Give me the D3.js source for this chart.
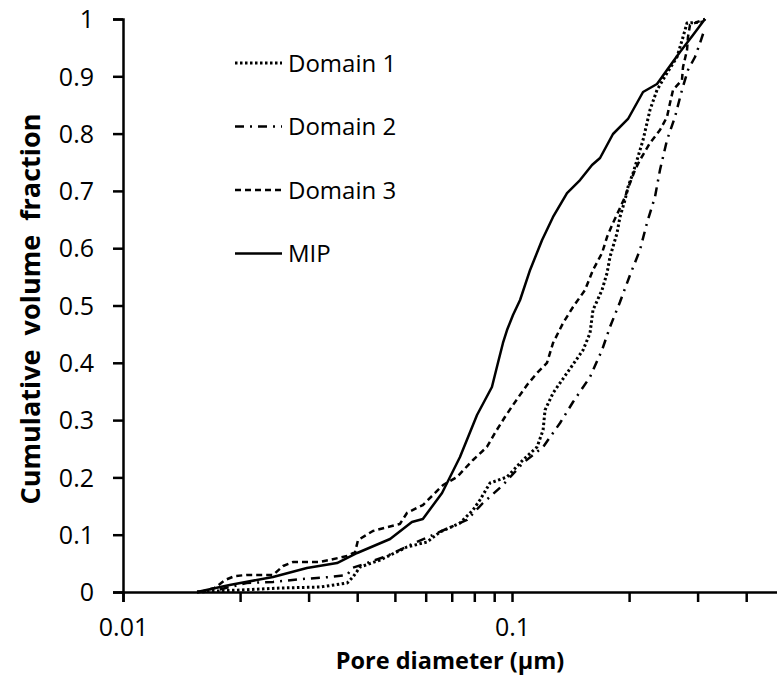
<!DOCTYPE html>
<html>
<head>
<meta charset="utf-8">
<script src="https://cdn.jsdelivr.net/npm/d3@7"></script>
<style>
  body { margin: 0; background: #fff; }
  svg text { font-family: "Open Sans", sans-serif; fill: #000; }
</style>
</head>
<body>
<div id="chart"></div>
<script>
// pore diameter (um) / cumulative volume fraction
var d1_x = [0.0155, 0.0200, 0.0253, 0.0321, 0.0377, 0.0390, 0.0407, 0.0458, 0.0537, 0.0605, 0.0653, 0.0735, 0.0794, 0.0827, 0.0878, 0.0971, 0.1067, 0.1160, 0.1202, 0.1216, 0.1275, 0.1385, 0.1523, 0.1587, 0.1615, 0.1704, 0.1755, 0.1786, 0.1862, 0.1895, 0.1952, 0.1987, 0.2047, 0.2096, 0.2172, 0.2263, 0.2359, 0.2503, 0.2656, 0.2752, 0.2818, 0.3097, 0.3134];
var d1_y = [0, 0.0035, 0.007, 0.0087, 0.0157, 0.0262, 0.0436, 0.0558, 0.0785, 0.0873, 0.1047, 0.1204, 0.1431, 0.1606, 0.1902, 0.2007, 0.2304, 0.2531, 0.2827, 0.3176, 0.3473, 0.3822, 0.4223, 0.452, 0.4921, 0.5271, 0.5567, 0.5846, 0.6265, 0.6545, 0.6841, 0.7068, 0.7312, 0.7539, 0.7888, 0.8412, 0.8761, 0.9058, 0.9337, 0.9686, 0.993, 0.9948, 1.0];

var d2_x = [0.0155, 0.0175, 0.0208, 0.0243, 0.0290, 0.0341, 0.0377, 0.0388, 0.0424, 0.0477, 0.0547, 0.0642, 0.0766, 0.0842, 0.0948, 0.1067, 0.1202, 0.1329, 0.1435, 0.1587, 0.1704, 0.1786, 0.1895, 0.2011, 0.2133, 0.2223, 0.2331, 0.2401, 0.2503, 0.2624, 0.2735, 0.2834, 0.2954, 0.3043, 0.3116];
var d2_y = [0, 0.0035, 0.0157, 0.0175, 0.0227, 0.0262, 0.0297, 0.0419, 0.0506, 0.0628, 0.082, 0.103, 0.1257, 0.1553, 0.1867, 0.2251, 0.2531, 0.2949, 0.3316, 0.3752, 0.4223, 0.4625, 0.5061, 0.5532, 0.5969, 0.644, 0.6894, 0.7365, 0.7888, 0.829, 0.8761, 0.911, 0.9337, 0.9581, 0.9791];

var d3_x = [0.0158, 0.0172, 0.0183, 0.0194, 0.0208, 0.0243, 0.0258, 0.0274, 0.0321, 0.0377, 0.0395, 0.0402, 0.0439, 0.0515, 0.0537, 0.0590, 0.0665, 0.0722, 0.0794, 0.0862, 0.0904, 0.0959, 0.1006, 0.1093, 0.1160, 0.1230, 0.1275, 0.1353, 0.1435, 0.1541, 0.1615, 0.1704, 0.1755, 0.1818, 0.1895, 0.1952, 0.2011, 0.2071, 0.2133, 0.2263, 0.2401, 0.2503, 0.2548, 0.2594, 0.2735, 0.2752, 0.2818, 0.2834, 0.2868, 0.3134];
var d3_y = [0, 0.007, 0.021, 0.0279, 0.0297, 0.0297, 0.0454, 0.0524, 0.0524, 0.0628, 0.0698, 0.0908, 0.1065, 0.1187, 0.1379, 0.1518, 0.1867, 0.2007, 0.2304, 0.2531, 0.2775, 0.3054, 0.3264, 0.3613, 0.3822, 0.3997, 0.4346, 0.4695, 0.4974, 0.5271, 0.562, 0.5916, 0.6195, 0.644, 0.6702, 0.6894, 0.7138, 0.7365, 0.7539, 0.7836, 0.8063, 0.829, 0.8534, 0.8761, 0.8935, 0.9162, 0.9459, 0.9686, 0.9895, 1.0];

var mip_x = [0.0155, 0.0188, 0.0243, 0.0297, 0.0355, 0.0400, 0.0486, 0.0553, 0.0590, 0.0661, 0.0735, 0.0813, 0.0888, 0.0920, 0.0948, 0.0971, 0.1006, 0.1049, 0.1113, 0.1195, 0.1275, 0.1385, 0.1496, 0.1606, 0.1684, 0.1818, 0.1987, 0.2172, 0.2359, 0.2503, 0.2703, 0.2920, 0.3134];
var mip_y = [0, 0.0122, 0.0262, 0.0419, 0.0506, 0.0681, 0.0925, 0.1222, 0.1274, 0.1728, 0.2356, 0.3089, 0.3578, 0.3997, 0.4346, 0.4572, 0.4834, 0.5096, 0.562, 0.6143, 0.6545, 0.6963, 0.719, 0.7452, 0.7574, 0.7993, 0.8255, 0.8726, 0.8866, 0.911, 0.9424, 0.9721, 1.0];

var series_names = ["Domain 1", "Domain 2", "Domain 3", "MIP"];
var x_ticks = [0.01, 0.02, 0.03, 0.04, 0.05, 0.06, 0.07, 0.08, 0.09, 0.1, 0.2, 0.3, 0.4, 0.5];
var x_labels = [0.01, 0.1];
var y_ticks = [0, 0.1, 0.2, 0.3, 0.4, 0.5, 0.6, 0.7, 0.8, 0.9, 1];

var width = 777, height = 677;
var margin = {top: 19, left: 123, bottom: 85};

var svg = d3.select("#chart").append("svg")
    .attr("width", width)
    .attr("height", height);

var x = d3.scaleLog()
    .domain([0.01, 0.5])
    .range([margin.left, margin.left + 389 * Math.log10(50)]);

var y = d3.scaleLinear()
    .domain([0, 1])
    .range([height - margin.bottom, margin.top]);

// axes
var xAxis = svg.append("g")
    .attr("transform", "translate(0," + y(0) + ")")
    .call(d3.axisBottom(x)
        .tickValues(x_ticks)
        .tickSize(10)
        .tickPadding(16)
        .tickFormat(function(d) { return x_labels.indexOf(d) >= 0 ? d3.format("")(d) : ""; }));

var yAxis = svg.append("g")
    .attr("transform", "translate(" + x(0.01) + ",0)")
    .call(d3.axisLeft(y)
        .tickValues(y_ticks)
        .tickSize(10)
        .tickPadding(19)
        .tickFormat(d3.format("")));

[xAxis, yAxis].forEach(function(a) {
  a.select(".domain").attr("stroke", "#000").attr("stroke-width", 2.5);
  a.selectAll(".tick line").attr("stroke", "#000").attr("stroke-width", 2.5);
  a.selectAll(".tick text").style("font-size", "25px").attr("fill", "#000");
});
yAxis.selectAll(".tick text").attr("dy", "0.35em");

// axis titles
svg.append("text")
    .attr("x", 450)
    .attr("y", 669)
    .attr("text-anchor", "middle")
    .style("font-size", "23.5px")
    .style("font-weight", "bold")
    .text("Pore diameter (\u03bcm)");

svg.append("text")
    .attr("transform", "translate(40,309) rotate(-90)")
    .attr("text-anchor", "middle")
    .style("font-size", "27px")
    .style("font-weight", "bold")
    .style("white-space", "pre")
    .attr("xml:space", "preserve")
    .text("Cumulative  volume  fraction");

// lines
var styles = [
  {dash: "2.5,2.5", w: 3},
  {dash: "9,6,2,6", w: 2.5},
  {dash: "6,4", w: 2.5},
  {dash: null, w: 2.5}
];
var xs = [d1_x, d2_x, d3_x, mip_x];
var ys = [d1_y, d2_y, d3_y, mip_y];

var line = d3.line()
    .x(function(d) { return x(d[0]); })
    .y(function(d) { return y(d[1]); });

xs.forEach(function(xv, i) {
  var pts = xv.map(function(v, j) { return [v, ys[i][j]]; });
  svg.append("path")
      .datum(pts)
      .attr("d", line)
      .attr("fill", "none")
      .attr("stroke", "#000")
      .attr("stroke-width", styles[i].w)
      .attr("stroke-dasharray", styles[i].dash)
      .attr("stroke-linejoin", "round");
});

// legend
var legend_x = 235, legend_y = 63, legend_gap = 63.5;
series_names.forEach(function(name, i) {
  var ly = legend_y + i * legend_gap;
  svg.append("line")
      .attr("x1", legend_x).attr("x2", legend_x + 47)
      .attr("y1", ly).attr("y2", ly)
      .attr("stroke", "#000")
      .attr("stroke-width", styles[i].w)
      .attr("stroke-dasharray", styles[i].dash);
  svg.append("text")
      .attr("x", legend_x + 53)
      .attr("y", ly + 8.5)
      .style("font-size", "24px")
      .text(name);
});
</script>
</body>
</html>
